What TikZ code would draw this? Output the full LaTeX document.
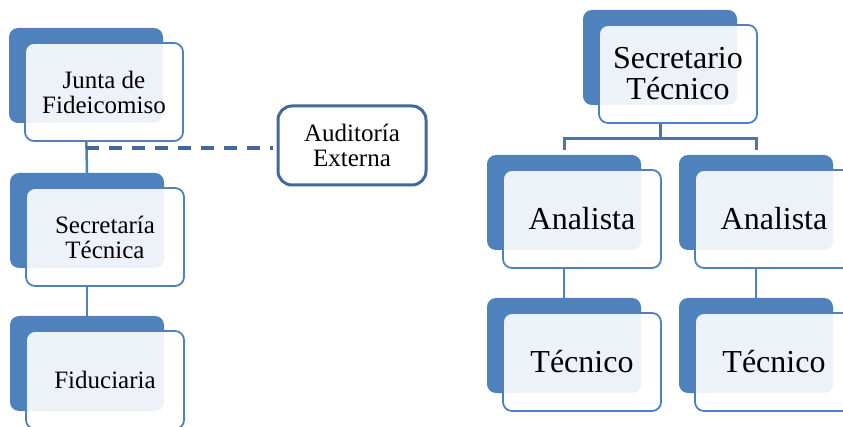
\documentclass[tikz,border=0pt]{standalone}
\usepackage{fontspec}
\setmainfont{DejaVu Serif}
\newfontfamily\orgfont{Liberation Serif}
\usetikzlibrary{calc}
\pgfdeclarelayer{back}
\pgfdeclarelayer{mid}
\pgfdeclarelayer{fronts}
\pgfsetlayers{back,mid,fronts,main}
\definecolor{sablue}{HTML}{4F81BD}
\definecolor{sadark}{HTML}{41699C}
\definecolor{saline}{HTML}{4A76AE}
\definecolor{salight}{HTML}{EDF2F8}
\tikzset{
  backbox/.style={rectangle, fill=sablue, rounded corners=9pt, minimum width=154pt, minimum height=95pt, inner sep=0pt, outer sep=0pt, anchor=north west},
  frontbox/.style={rectangle, draw=sablue, line width=1.8pt, rounded corners=9pt, minimum width=158pt, minimum height=98pt, inner sep=0pt, outer sep=0pt, align=center, anchor=north west},
  smalltext/.style={font=\orgfont\fontsize{25}{25}\selectfont},
  bigtext/.style={font=\orgfont\fontsize{32}{31}\selectfont},
  conn/.style={draw=sablue, line width=2.5pt},
  connd/.style={draw=saline, line width=3pt},
  dashline/.style={draw=sadark, line width=3.5pt, dash pattern=on 13pt off 10pt},
  audbox/.style={rectangle, draw=sadark, line width=3pt, fill=white, rounded corners=14pt, minimum width=148pt, minimum height=79pt, inner sep=0pt, align=center, font=\orgfont\fontsize{25}{25}\selectfont}
}
\newcommand{\obox}[5]{%
  \begin{pgfonlayer}{back}\node[backbox] (#1b) at (#2,#3) {};\end{pgfonlayer}
  \node[frontbox,#4] (#1) at ($(#2,#3)+(16,15)$) {#5};
  \begin{pgfonlayer}{fronts}
    \fill[white, rounded corners=9pt] (#1.north west) rectangle (#1.south east);
    \begin{scope}
      \clip[rounded corners=9pt] (#1.north west) rectangle (#1.south east);
      \fill[salight, rounded corners=9pt] (#1b.north west) rectangle (#1b.south east);
    \end{scope}
  \end{pgfonlayer}}
\begin{document}
\begin{tikzpicture}[x=1pt,y=-1pt]
\useasboundingbox (0,0) rectangle (843,427);
% left column
\obox{junta}{9}{28}{smalltext}{Junta de\\Fideicomiso}
\obox{secr}{10}{173}{smalltext}{Secretaría\\Técnica}
\obox{fidu}{10}{316}{smalltext}{Fiduciaria}
\node[audbox] (aud) at (352,145.5) {Auditoría\\Externa};
% right chart
\obox{stec}{583}{10}{bigtext}{Secretario\\Técnico}
\obox{anaa}{487}{155}{bigtext}{Analista}
\obox{anab}{679}{155}{bigtext}{Analista}
\obox{teca}{487}{298}{bigtext}{Técnico}
\obox{tecb}{679}{298}{bigtext}{Técnico}
% connectors
\begin{pgfonlayer}{mid}
\draw[conn] (juntab.south) -- (secrb.north);
\draw[conn] (secrb.south) -- (fidub.north);
\coordinate (dstart) at ([yshift=-2.5pt]aud.west -| juntab.south);
\draw[dashline] (dstart) -- ([yshift=-2.5pt,xshift=-4pt]aud.west);
\coordinate (bar) at ($(stecb.south)+(0,34)$);
\draw[connd] (stecb.south) -- (bar) -| ([yshift=5pt]anaab.north);
\draw[connd] (bar) -| ([yshift=5pt]anabb.north);
\draw[conn] (anaab.south) -- (tecab.north);
\draw[conn] (anabb.south) -- (tecbb.north);
\end{pgfonlayer}
\end{tikzpicture}
\end{document}
